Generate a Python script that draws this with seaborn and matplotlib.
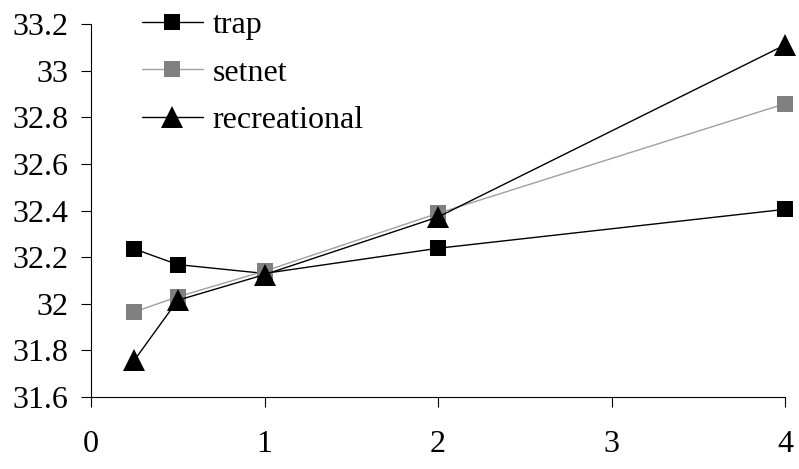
import matplotlib
matplotlib.use("Agg")
import matplotlib.pyplot as plt
import seaborn as sns
import pandas as pd

x_vals = [0.25, 0.5, 1, 2, 4]
trap = [32.235, 32.168, 32.13, 32.238, 32.405]
setnet = [31.965, 32.03, 32.14, 32.388, 32.858]
recreational = [31.758, 32.015, 32.125, 32.372, 33.11]
series_names = ["trap", "setnet", "recreational"]
x_ticks = [0, 1, 2, 3, 4]
y_ticks = [31.6, 31.8, 32, 32.2, 32.4, 32.6, 32.8, 33, 33.2]
y_ticklabels = ["31.6", "31.8", "32", "32.2", "32.4", "32.6", "32.8", "33", "33.2"]

sns.set_theme(style="white")
plt.rcParams["font.family"] = ["Liberation Serif", "DejaVu Serif"]

fig = plt.figure(figsize=(7.99, 4.69), dpi=100)
ax = fig.add_axes([91/799, 1-397/469, (785-91)/799, (397-24)/469])

styles = {
    "trap": dict(color="black", line="black", marker="s", ms=12),
    "setnet": dict(color="#808080", line="#a0a0a0", marker="s", ms=12),
    "recreational": dict(color="black", line="black", marker="^", ms=16),
}
data = {"trap": trap, "setnet": setnet, "recreational": recreational}

for name in series_names:
    st = styles[name]
    df = pd.DataFrame({"x": x_vals, "y": data[name]})
    sns.lineplot(data=df, x="x", y="y", ax=ax, color=st["line"], linewidth=1.0,
                 marker=st["marker"], markersize=st["ms"], markerfacecolor=st["color"],
                 markeredgecolor=st["color"], markeredgewidth=0, label=name,
                 clip_on=False, zorder=3)

ax.set_xlim(0, 4)
ax.set_ylim(31.6, 33.2)
ax.set_xticks(x_ticks)
ax.set_xticklabels([str(t) for t in x_ticks])
ax.set_yticks(y_ticks)
ax.set_yticklabels(y_ticklabels)
ax.set_xlabel("")
ax.set_ylabel("")
for s in ["top", "right"]:
    ax.spines[s].set_visible(False)
for s in ["left", "bottom"]:
    ax.spines[s].set_color("black")
    ax.spines[s].set_linewidth(0.8)
ax.tick_params(axis="both", which="major", bottom=True, left=True, direction="out",
               length=7, width=0.8, color="black", labelsize=23, labelcolor="black")
ax.tick_params(axis="x", pad=17)
ax.tick_params(axis="y", pad=9)
ax.grid(False)

leg = ax.legend(loc="upper left", bbox_to_anchor=(142/799, 1-11/469), bbox_transform=fig.transFigure,
                frameon=False, fontsize=23, handlelength=1.9, handletextpad=0.3,
                labelspacing=0.56, borderaxespad=0, borderpad=0)
for t in leg.get_texts():
    t.set_color("black")

fig.savefig("out.png", dpi=100)
